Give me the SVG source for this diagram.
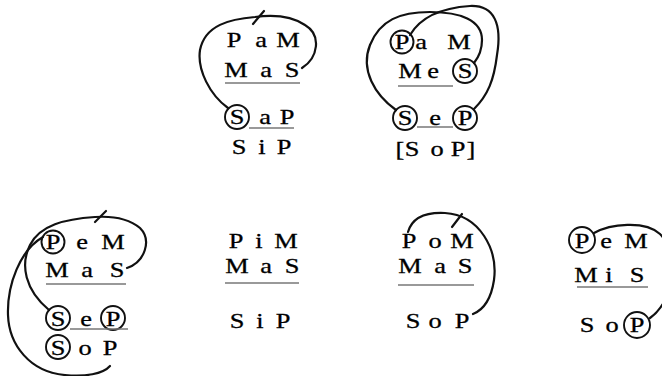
<svg xmlns="http://www.w3.org/2000/svg" width="662" height="376" viewBox="0 0 662 376">
<style>
text{font-family:"Liberation Serif","Times New Roman",serif;font-size:22px;fill:#000;stroke:#000;stroke-width:0.3;text-anchor:middle}
.c{fill:none;stroke:#111;stroke-width:1.9}
.u{stroke:#777;stroke-width:1.5}
.a{fill:none;stroke:#111;stroke-width:2.2;stroke-linecap:round}
</style>
<rect width="662" height="376" fill="#fff"/>
<g id="p1">
<text transform="translate(234 47) scale(1.2 1)">P</text><text transform="translate(261 47) scale(1.2 1)">a</text><text transform="translate(288 47) scale(1.2 1)">M</text>
<text transform="translate(236 77) scale(1.2 1)">M</text><text transform="translate(266 77) scale(1.2 1)">a</text><text transform="translate(292 77) scale(1.2 1)">S</text>
<line class="u" x1="225" y1="83" x2="300" y2="83"/>
<text transform="translate(237 124) scale(1.2 1)">S</text><text transform="translate(265 124) scale(1.2 1)">a</text><text transform="translate(287 124) scale(1.2 1)">P</text>
<circle class="c" cx="237" cy="117" r="12"/>
<line class="u" x1="249" y1="128" x2="294" y2="128"/>
<text transform="translate(239 154) scale(1.2 1)">S</text><text transform="translate(262 154) scale(1.2 1)">i</text><text transform="translate(284 154) scale(1.2 1)">P</text>
</g>
<g id="p2">
<text transform="translate(402 49) scale(1.2 1)">P</text><text transform="translate(421 49) scale(1.2 1)">a</text><text transform="translate(459 49) scale(1.2 1)">M</text>
<circle class="c" cx="402" cy="42" r="11.5"/>
<text transform="translate(410 78) scale(1.2 1)">M</text><text transform="translate(433 78) scale(1.2 1)">e</text><text transform="translate(465 78) scale(1.2 1)">S</text>
<circle class="c" cx="465" cy="71" r="12"/>
<line class="u" x1="398" y1="86" x2="453" y2="86"/>
<text transform="translate(405 125) scale(1.2 1)">S</text><text transform="translate(435 125) scale(1.2 1)">e</text><text transform="translate(465 125) scale(1.2 1)">P</text>
<circle class="c" cx="405" cy="118" r="12"/>
<circle class="c" cx="465" cy="118" r="12"/>
<line class="u" x1="417" y1="127" x2="453" y2="127"/>
<text transform="translate(400 156) scale(1.2 1)">[</text><text transform="translate(412 156) scale(1.2 1)">S</text><text transform="translate(437 156) scale(1.2 1)">o</text><text transform="translate(458 156) scale(1.2 1)">P</text><text transform="translate(471 156) scale(1.2 1)">]</text>
</g>
<g id="p3">
<text transform="translate(53 249) scale(1.2 1)">P</text><text transform="translate(82 249) scale(1.2 1)">e</text><text transform="translate(113 249) scale(1.2 1)">M</text>
<circle class="c" cx="53" cy="242" r="11.5"/>
<text transform="translate(57 277) scale(1.2 1)">M</text><text transform="translate(87 277) scale(1.2 1)">a</text><text transform="translate(117 277) scale(1.2 1)">S</text>
<line class="u" x1="46" y1="284" x2="126" y2="284"/>
<text transform="translate(58 326) scale(1.2 1)">S</text><text transform="translate(86 326) scale(1.2 1)">e</text><text transform="translate(113 326) scale(1.2 1)">P</text>
<circle class="c" cx="58" cy="318" r="12"/>
<circle class="c" cx="113" cy="318" r="12"/>
<line class="u" x1="70" y1="329" x2="128" y2="329"/>
<text transform="translate(58 355) scale(1.2 1)">S</text><text transform="translate(85 355) scale(1.2 1)">o</text><text transform="translate(110 355) scale(1.2 1)">P</text>
<circle class="c" cx="58" cy="347" r="12"/>
</g>
<g id="p4">
<text transform="translate(236 248) scale(1.2 1)">P</text><text transform="translate(259 248) scale(1.2 1)">i</text><text transform="translate(286 248) scale(1.2 1)">M</text>
<text transform="translate(237 273) scale(1.2 1)">M</text><text transform="translate(266 273) scale(1.2 1)">a</text><text transform="translate(292 273) scale(1.2 1)">S</text>
<line class="u" x1="225" y1="283" x2="299" y2="283"/>
<text transform="translate(237 328) scale(1.2 1)">S</text><text transform="translate(260 328) scale(1.2 1)">i</text><text transform="translate(283 328) scale(1.2 1)">P</text>
</g>
<g id="p5">
<text transform="translate(409 248) scale(1.2 1)">P</text><text transform="translate(435 248) scale(1.2 1)">o</text><text transform="translate(462 248) scale(1.2 1)">M</text>
<text transform="translate(410 273) scale(1.2 1)">M</text><text transform="translate(440 273) scale(1.2 1)">a</text><text transform="translate(465 273) scale(1.2 1)">S</text>
<line class="u" x1="398" y1="285" x2="474" y2="285"/>
<text transform="translate(413 328) scale(1.2 1)">S</text><text transform="translate(435 328) scale(1.2 1)">o</text><text transform="translate(462 328) scale(1.2 1)">P</text>
</g>
<g id="p6">
<text transform="translate(582 248) scale(1.2 1)">P</text><text transform="translate(606 248) scale(1.2 1)">e</text><text transform="translate(636 248) scale(1.2 1)">M</text>
<circle class="c" cx="582" cy="240" r="13"/>
<text transform="translate(586 282) scale(1.2 1)">M</text><text transform="translate(609 282) scale(1.2 1)">i</text><text transform="translate(637 282) scale(1.2 1)">S</text>
<line class="u" x1="577" y1="287" x2="648" y2="287"/>
<text transform="translate(587 332) scale(1.2 1)">S</text><text transform="translate(612 332) scale(1.2 1)">o</text><text transform="translate(637 332) scale(1.2 1)">P</text>
<circle class="c" cx="637" cy="325" r="13"/>
</g>
<g id="connectors">
<path class="a" d="M302,68 C318,58 322,35 305,25 C290,15 270,15 255,17 C230,19 205,25 200,50 C197,70 210,95 228,108"/>
<line class="a" x1="253" y1="24" x2="264" y2="11"/>
<path class="a" d="M410,35 C420,18 440,8 470,6 C495,5 502,25 497,55 C494,80 488,95 474,109"/>
<path class="a" d="M396,110 C375,95 360,70 370,45 C380,20 400,12 430,12 C460,12 482,20 482,40 C482,50 478,58 474,63"/>
<path class="a" d="M127,268 C145,262 152,240 140,228 C128,218 110,216 95,217 C65,219 40,225 30,245 C20,265 25,290 49,310"/>
<line class="a" x1="95" y1="222" x2="106" y2="211"/>
<path class="a" d="M43,237 C20,250 7,285 8,315 C9,345 30,372 65,375 C85,377 103,374 110,366"/>
<path class="a" d="M408,232 C412,218 425,212 445,213 C480,215 498,250 494,280 C491,300 483,310 473,314"/>
<line class="a" x1="452" y1="227" x2="462" y2="214"/>
<path class="a" d="M594,233 C610,224 645,220 660,234 C680,255 675,300 650,318"/>
</g>
</svg>
